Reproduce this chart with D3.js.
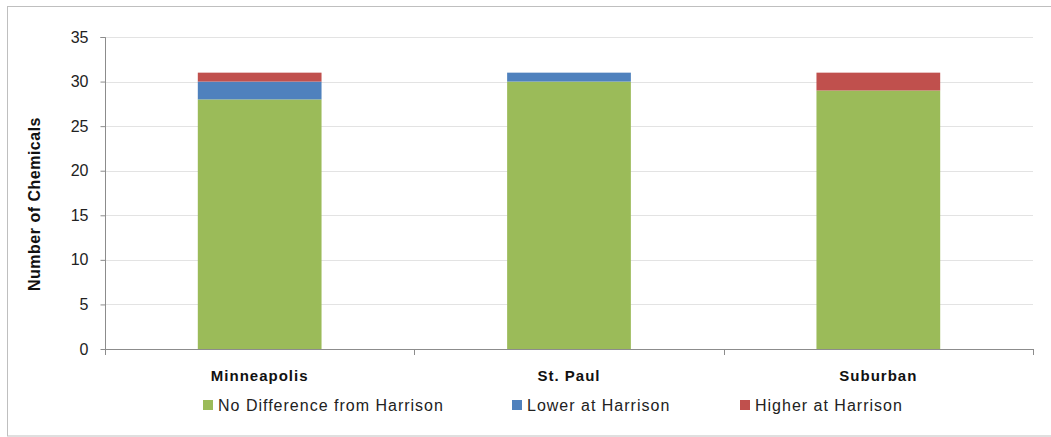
<!DOCTYPE html>
<html><head><meta charset="utf-8">
<script src="https://cdn.jsdelivr.net/npm/d3@7"></script>
<style>body{margin:0;background:#fff;} svg{display:block;font-family:"Liberation Sans",Arial,sans-serif;}</style>
</head><body>
<svg id="chart" width="1051" height="437"></svg>
<script>
const categories = ["Minneapolis", "St. Paul", "Suburban"];
const seriesNames = ["No Difference from Harrison", "Lower at Harrison", "Higher at Harrison"];
const noDifference = [28, 30, 29];
const lowerAt = [2, 1, 0];
const higherAt = [1, 0, 2];
const yTicks = [0, 5, 10, 15, 20, 25, 30, 35];
const colors = ["#9BBB59", "#4F81BD", "#C0504D"];

const svg = d3.select("#chart");
const W = 1051, H = 437;
const m = {left: 105, right: 1033, top: 37, bottom: 349};

svg.append("rect").attr("x", 7.5).attr("y", 6.5).attr("width", W).attr("height", 429.5)
  .attr("fill", "none").attr("stroke", "#bfbfbf").attr("stroke-width", 1);

const x = d3.scaleBand().domain(categories).range([m.left, m.right]).paddingInner(0).paddingOuter(0);
const y = d3.scaleLinear().domain([0, 35]).range([m.bottom, m.top]);

// gridlines
svg.append("g").selectAll("line").data(yTicks.filter(d => d > 0)).join("line")
  .attr("x1", m.left).attr("x2", m.right)
  .attr("y1", d => Math.round(y(d)) + 0.5).attr("y2", d => Math.round(y(d)) + 0.5)
  .attr("stroke", "#e3e3e3").attr("stroke-width", 1.2);

// stacked bars
const table = categories.map((c, i) => ({cat: c, s0: noDifference[i], s1: lowerAt[i], s2: higherAt[i]}));
const stack = d3.stack().keys(["s0", "s1", "s2"])(table);
const barW = x.bandwidth() * 0.4;
svg.append("g").selectAll("g").data(stack).join("g").attr("fill", (d, i) => colors[i])
  .selectAll("rect").data(d => d).join("rect")
  .attr("x", d => x(d.data.cat) + (x.bandwidth() - barW) / 2)
  .attr("width", barW)
  .attr("y", d => y(d[1]))
  .attr("height", d => y(d[0]) - y(d[1]));

// y axis
const yAxis = svg.append("g").attr("transform", `translate(${m.left + 0.5},0)`)
  .call(d3.axisLeft(y).tickValues(yTicks).tickSize(5).tickPadding(12));
yAxis.select(".domain").attr("stroke", "#8c8c8c").attr("d", `M-5,${m.top + 0.5}H0V${m.bottom + 0.5}`);
yAxis.selectAll(".tick line").attr("stroke", "#8c8c8c");
yAxis.selectAll(".tick text").attr("font-size", 16).attr("fill", "#222");

// x axis
const xAxis = svg.append("g").attr("transform", `translate(0,${m.bottom + 0.5})`)
  .call(d3.axisBottom(x).tickSize(0).tickPadding(21));
xAxis.select(".domain").attr("stroke", "#8c8c8c").attr("d", `M${m.left},0H${m.right}`);
xAxis.selectAll(".tick text").attr("font-size", 15).attr("font-weight", "bold").attr("fill", "#111")
  .attr("letter-spacing", "1px");
// category boundary ticks
svg.append("g").selectAll("line").data(categories.concat(["__end"])).join("line")
  .attr("x1", (d, i) => Math.round(m.left + i * x.bandwidth()) + 0.5)
  .attr("x2", (d, i) => Math.round(m.left + i * x.bandwidth()) + 0.5)
  .attr("y1", m.bottom).attr("y2", m.bottom + 6)
  .attr("stroke", "#8c8c8c");

// y title
svg.append("text").attr("transform", `translate(40,204) rotate(-90)`)
  .attr("text-anchor", "middle").attr("font-size", 16).attr("font-weight", "bold").attr("fill", "#111")
  .attr("letter-spacing", "0.5px")
  .text("Number of Chemicals");

// legend
const legendX = [203, 512, 740];
const lg = svg.append("g").selectAll("g").data(seriesNames).join("g")
  .attr("transform", (d, i) => `translate(${legendX[i]},405)`);
lg.append("rect").attr("x", 0).attr("y", -5).attr("width", 10).attr("height", 10).attr("fill", (d, i) => colors[i]);
lg.append("text").attr("x", 15).attr("y", 0).attr("dy", "0.36em").attr("font-size", 16).attr("fill", "#222")
  .attr("letter-spacing", "1px").text(d => d);
</script>
</body></html>
